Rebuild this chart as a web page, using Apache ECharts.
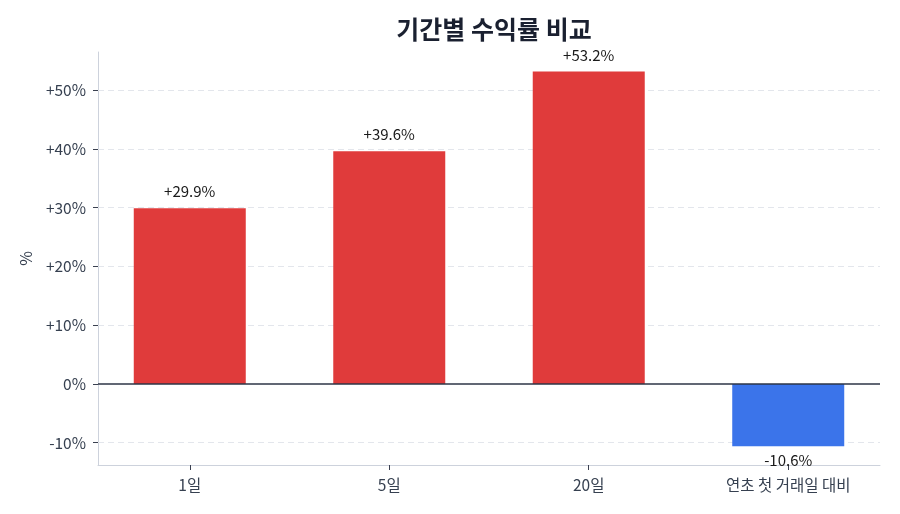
<!DOCTYPE html>
<html><head><meta charset="utf-8">
<script src="https://cdn.jsdelivr.net/npm/echarts@6/dist/echarts.min.js"></script>
<style>html,body{margin:0;padding:0;background:#fff}#c{width:900px;height:514px}</style>
</head><body><div id="c"></div>
<script>
const categories = ['1일', '5일', '20일', '연초 첫 거래일 대비'];
const returns = [29.9, 39.6, 53.2, -10.6];
const yTicks = [-10, 0, 10, 20, 30, 40, 50];
const posColor = '#e03b3b';
const negColor = '#3b74ea';
const FONT = '"Noto Sans CJK KR", "Noto Sans", sans-serif';
const fmt = v => (v > 0 ? '+' : '') + v.toFixed(1) + '%';
const tickFmt = v => (v > 0 ? '+' : '') + v + '%';

const chart = echarts.init(document.getElementById('c'));
chart.setOption({
  animation: false,
  textStyle: { fontFamily: FONT },
  title: {
    text: '기간별 수익률 비교', left: 489, top: 12, textAlign: 'center',
    textStyle: { fontFamily: FONT, fontSize: 25, fontWeight: 'bold', color: '#1a2030' }
  },
  grid: { left: 98, right: 20, top: 52, bottom: 49 },
  xAxis: {
    type: 'value', min: -0.46, max: 3.46,
    splitLine: { show: false },
    axisLine: { show: true, onZero: false, lineStyle: { color: '#cdd2dc', width: 1 } },
    axisTick: { show: true, customValues: [0, 1, 2, 3], length: 5, lineStyle: { color: '#3a4050' } },
    axisLabel: { customValues: [0, 1, 2, 3], formatter: v => categories[Math.round(v)], color: '#364050', fontSize: 15.5, fontFamily: FONT, margin: 12 }
  },
  yAxis: {
    type: 'value', min: -13.8, max: 56.5,
    name: '%', nameLocation: 'middle', nameGap: 64, nameRotate: 90,
    nameTextStyle: { color: '#364050', fontSize: 16, fontFamily: FONT },
    splitLine: { show: false },
    axisLine: { show: true, onZero: false, lineStyle: { color: '#cdd2dc', width: 1 } },
    axisTick: { show: true, customValues: yTicks, length: 5, lineStyle: { color: '#3a4050' } },
    axisLabel: { customValues: yTicks, formatter: tickFmt, color: '#364050', fontSize: 15.5, fontFamily: FONT, margin: 12 }
  },
  series: [{
    type: 'line',
    data: [],
    z: 1,
    markLine: {
      z: 1,
      silent: true, symbol: 'none', label: { show: false },
      data: yTicks.filter(t => t !== 0).map(t => ({ yAxis: t, lineStyle: { color: '#e3e6ec', type: [6, 4], width: 1 } }))
    }
  }, {
    type: 'bar',
    barWidth: 112,
    data: returns.map((v, i) => ({
      value: [i, v],
      itemStyle: { color: v >= 0 ? posColor : negColor },
      label: { show: true, position: v >= 0 ? 'top' : 'bottom', distance: v >= 0 ? 9 : 7 }
    })),
    label: { formatter: p => fmt(p.value[1]), color: '#1a1a1a', fontSize: 15, fontFamily: FONT },
    markLine: {
      z: 6,
      silent: true, symbol: 'none', label: { show: false },
      data: [{ yAxis: 0, lineStyle: { color: '#2d3446', type: 'solid', width: 1.5 } }]
    },
    z: 3
  }]
});
</script></body></html>
